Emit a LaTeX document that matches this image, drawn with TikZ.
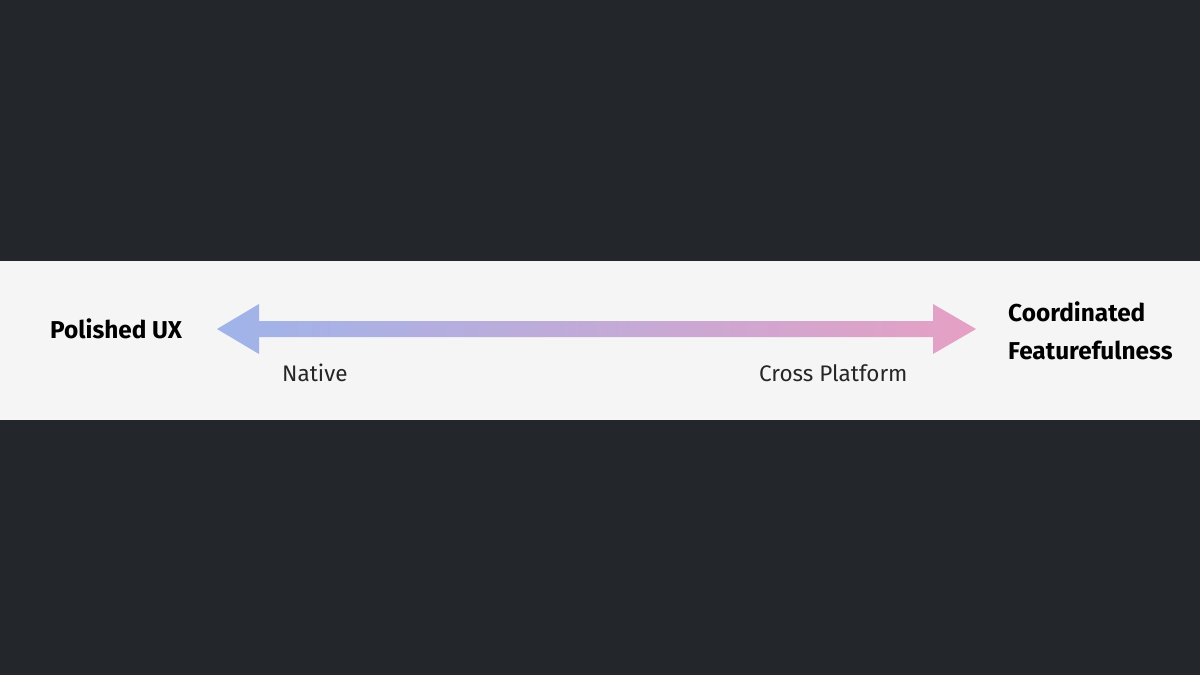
\documentclass[tikz,border=0pt]{standalone}
\usepackage{fontspec}
\setmainfont{Fira Sans}
\usetikzlibrary{calc}

\definecolor{bgdark}{HTML}{23262B}
\definecolor{bandgray}{HTML}{F5F5F5}
\definecolor{uxblue}{HTML}{9FB4EA}
\definecolor{featpink}{HTML}{E6A0C4}

\tikzset{
  pole/.style={anchor=base west, inner sep=0pt, text=black, font=\fontsize{24.4}{38}\selectfont\bfseries, align=left},
  tag/.style={anchor=base west, inner sep=0pt, text=black!85, font=\fontsize{22.5}{26}\selectfont}
}

\begin{document}
\begin{tikzpicture}[x=1pt,y=-1pt]
\fill[bgdark] (0,0) rectangle (1200,675);
\useasboundingbox (0,0) rectangle (1200,675);
\fill[bandgray] (0,261) rectangle (1200,420);

\coordinate (west) at (217,329);
\coordinate (east) at (976,329);

\shade[left color=uxblue, right color=featpink]
  (west) -- ($(west)+(42,-25)$) -- ($(west)+(42,-8)$)
  -- ($(east)+(-43,-8)$) -- ($(east)+(-43,-25)$) -- (east)
  -- ($(east)+(-43,25)$) -- ($(east)+(-43,8)$)
  -- ($(west)+(42,8)$) -- ($(west)+(42,25)$) -- cycle;

\node[pole] (ux) at (50,338) {Polished UX};
\node[pole] (feat) at (1008,359) {Coordinated\\Featurefulness};

\node[tag] (native) at (282,381) {Native};
\node[tag] (cross) at (759,381) {Cross Platform};

\end{tikzpicture}
\end{document}
